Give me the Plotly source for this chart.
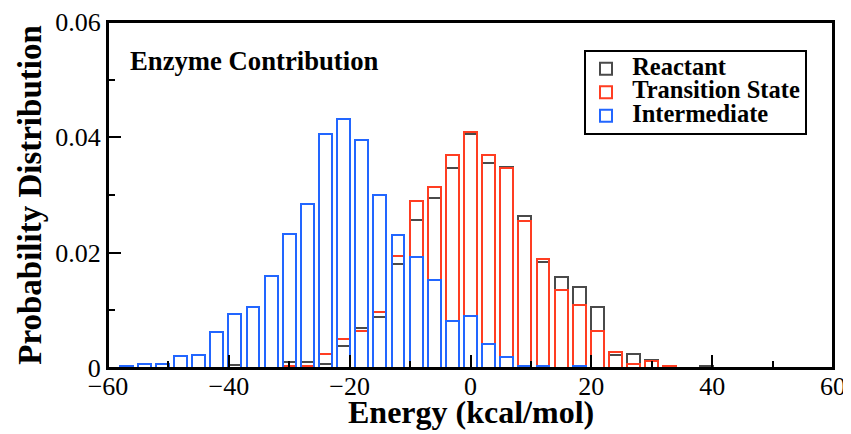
import plotly.graph_objects as go

# ---- data ----
bin_centers = [-57, -54, -51, -48, -45, -42, -39, -36, -33, -30, -27, -24, -21,
               -18, -15, -12, -9, -6, -3, 0, 3, 6, 9, 12, 15, 18, 21, 24, 27,
               30, 33, 36, 39]

reactant = [0, 0, 0, 0, 0, 0, 0.0005, 0, 0, 0.0010, 0.0010, 0.0007, 0.0038,
            0.0070, 0.0088, 0.0180, 0.0257, 0.0295, 0.0347, 0.0406, 0.0356,
            0.0349, 0.0264, 0.0183, 0.0158, 0.0140, 0.0105, 0.0022, 0.0025,
            0.0014, 0, 0, 0.0004]

transition_state = [0, 0, 0, 0, 0, 0, 0, 0, 0, 0.0003, 0.0003, 0.0024, 0.0051,
                    0.0064, 0.0097, 0.0194, 0.0290, 0.0314, 0.0370, 0.0410,
                    0.0370, 0.0347, 0.0255, 0.0189, 0.0136, 0.0110, 0.0064,
                    0.0027, 0.0007, 0.0012, 0.0003, 0, 0]

intermediate = [0.0004, 0.0007, 0.0007, 0.0020, 0.0023, 0.0063, 0.0093, 0.0106,
                0.0159, 0.0232, 0.0285, 0.0405, 0.0432, 0.0396, 0.0300, 0.0231,
                0.0192, 0.0152, 0.0082, 0.0090, 0.0041, 0.0019, 0.0004, 0.0004,
                0, 0.0004, 0, 0, 0, 0, 0, 0, 0]

series_names = ["Reactant", "Transition State", "Intermediate"]
series_colors = ["#4a4a4a", "#ff3d22", "#2266ff"]
x_ticks = [-60, -40, -20, 0, 20, 40, 60]
y_ticks = [0, 0.02, 0.04, 0.06]
y_ticklabels = ["0", "0.02", "0.04", "0.06"]
x_title = "Energy (kcal/mol)"
y_title = "Probability Distribution"
panel_label = "Enzyme Contribution"

FONT = "Liberation Serif"
W, H = 851, 434
OFF = 8  # page offset of the figure inside the browser window
# desired plot-area edges in window pixels
PL, PR, PT, PB = 108, 833, 22, 368.5
ML, MR, MT, MB = PL - OFF, W - (PR - OFF), PT - OFF, H - (PB - OFF)

fig = go.Figure()
for name, vals, col in zip(series_names, [reactant, transition_state, intermediate], series_colors):
    xs = [c for c, v in zip(bin_centers, vals) if v > 0]
    ys = [v for v in vals if v > 0]
    fig.add_trace(go.Bar(
        x=xs, y=ys, name='<span style="font-size:24.5px">\u2005%s</span>' % name,
        width=2.15,
        marker=dict(color="rgba(0,0,0,0)", line=dict(color=col, width=2)),
    ))

def px_x(p):
    return (p - PL) / (PR - PL)

def px_y(p):
    return (PB - p) / (PB - PT)

axis_common = dict(
    showline=True, linewidth=2, linecolor="black", mirror=True,
    showgrid=False, zeroline=False, automargin=False,
    ticks="inside", ticklen=13, tickwidth=2, tickcolor="black",
    ticklabeloverflow="allow",
    tickfont=dict(family=FONT, size=26, color="black"),
)

fig.update_layout(
    width=W, height=H,
    margin=dict(l=ML, r=MR, t=MT, b=MB),
    paper_bgcolor="white", plot_bgcolor="white",
    barmode="overlay", bargap=0,
    showlegend=True,
    legend=dict(
        x=px_x(584), y=px_y(50), xanchor="left", yanchor="top",
        bgcolor="white", bordercolor="black", borderwidth=2,
        font=dict(family=FONT, size=15.8, color="black", weight="bold"),
        itemclick=False,
    ),
    xaxis=dict(
        range=[-60, 60], tickvals=x_ticks,
        minor=dict(ticks="inside", ticklen=7, tickwidth=2, tickcolor="black", dtick=10),
        ticklabelstandoff=-6,
        **axis_common,
    ),
    yaxis=dict(
        range=[0, 0.06], tickvals=y_ticks, ticktext=y_ticklabels,
        minor=dict(ticks="inside", ticklen=7, tickwidth=2, tickcolor="black", dtick=0.01),
        title=dict(text="<b>%s</b>" % y_title, font=dict(family=FONT, size=33, color="black"), standoff=4),
        **axis_common,
    ),
    shapes=[dict(
        type="rect", xref="paper", yref="paper", x0=0, x1=1, y0=0, y1=1,
        line=dict(color="black", width=2), fillcolor="rgba(0,0,0,0)", layer="above",
    )],
    annotations=[
        dict(
            text="<b>%s</b>" % panel_label, xref="paper", yref="paper",
            x=px_x(128), y=px_y(61), xanchor="left", yanchor="middle",
            showarrow=False, font=dict(family=FONT, size=26.7, color="black"),
        ),
        dict(
            text="<b>%s</b>" % x_title, xref="paper", yref="paper",
            x=0.5, y=px_y(413), xanchor="center", yanchor="middle",
            showarrow=False, font=dict(family=FONT, size=32, color="black"),
        ),
    ],
)

fig.write_html("out.html")
